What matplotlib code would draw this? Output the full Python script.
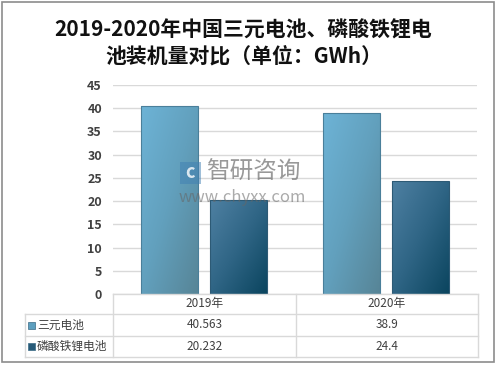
import numpy as np
import matplotlib.pyplot as plt
from matplotlib.colors import LinearSegmentedColormap
from matplotlib.patches import Rectangle

plt.rcParams['font.family'] = ['Noto Sans CJK SC', 'DejaVu Sans']

years = ['2019年', '2020年']
series_names = ['三元电池', '磷酸铁锂电池']
ternary = [40.563, 38.9]
lfp = [20.232, 24.4]
ternary_labels = ['40.563', '38.9']
lfp_labels = ['20.232', '24.4']

W, H = 497, 367
fig = plt.figure(figsize=(W / 100, H / 100), dpi=100)

def fx(px):
    return px / W

def fy(py):
    return 1 - py / H

# outer frame
fig.add_artist(Rectangle((fx(2), fy(362)), fx(492), 360 / H, transform=fig.transFigure,
                         fill=False, edgecolor='#8c8c8c', linewidth=1.2))

fig.text(0.49, fy(43), '2019-2020年中国三元电池、磷酸铁锂电\n池装机量对比（单位：GWh）',
         ha='center', va='center', fontsize=15, fontweight='bold', linespacing=1.3,
         color='#111111')

ax = fig.add_axes([fx(113), fy(294), fx(477) - fx(113), (294 - 85) / H])
ax.set_xlim(-0.5, 1.5)
ax.set_ylim(0, 45)
ax.set_yticks(range(0, 50, 5))
ax.yaxis.grid(True, color='#d9d9d9', linewidth=1)
ax.set_axisbelow(True)
for s in ax.spines.values():
    s.set_visible(False)
ax.tick_params(axis='y', length=0, pad=8, labelsize=9, labelcolor='#404040')
for lab in ax.get_yticklabels():
    lab.set_fontweight('bold')
ax.set_xticks([])

x = np.arange(len(years))
bw = 0.31
off = 0.19
cm1 = LinearSegmentedColormap.from_list('c1', ['#6db3d6', '#62a0bd', '#578597'])
cm2 = LinearSegmentedColormap.from_list('c2', ['#4e80a2', '#2f6585', '#0b455f'])
grad = np.add.outer(np.linspace(0, 1, 60), np.linspace(0, 1, 60)) / 2

for vals, cm, dx, ec in [(ternary, cm1, -off, '#4a7f9a'), (lfp, cm2, off, '#2d5a75')]:
    bars = ax.bar(x + dx, vals, width=bw, color='none', edgecolor=ec, linewidth=0.8, zorder=3)
    for b in bars:
        x0, y0, w, h = b.get_x(), b.get_y(), b.get_width(), b.get_height()
        im = ax.imshow(grad, cmap=cm, extent=(x0, x0 + w, y0, y0 + h), origin='upper',
                       aspect='auto', zorder=2)
        im.set_clip_path(b)
ax.set_xlim(-0.5, 1.5)
ax.set_ylim(0, 45)

# watermark
fig.text(fx(206), fy(172), '智研咨询', fontsize=17, color='#777777', alpha=0.75,
         ha='left', va='center')
fig.text(fx(179), fy(198), 'www.chyxx.com', fontsize=12, color='#666666', alpha=0.55,
         ha='left', va='center')
fig.add_artist(Rectangle((fx(180), fy(184)), fx(21), 22 / H, transform=fig.transFigure,
                         facecolor='#3f7fb3', alpha=0.5, edgecolor='none'))
fig.text(fx(190.5), fy(173), 'c', fontsize=13, color='white', alpha=0.8,
         ha='center', va='center', fontweight='bold')

# data table
gc = '#d9d9d9'
line_kw = dict(color=gc, linewidth=1, transform=fig.transFigure)
rows_y = [294, 314, 336, 357]
col_x = [25, 113, 296, 478]
fig.add_artist(plt.Line2D([fx(113), fx(478)], [fy(294), fy(294)], **line_kw))
for ry in rows_y[1:]:
    fig.add_artist(plt.Line2D([fx(25), fx(478)], [fy(ry), fy(ry)], **line_kw))
for cx in col_x[1:]:
    fig.add_artist(plt.Line2D([fx(cx), fx(cx)], [fy(294), fy(357)], **line_kw))
fig.add_artist(plt.Line2D([fx(25), fx(25)], [fy(314), fy(357)], **line_kw))

tc = '#404040'
centers = [(col_x[1] + col_x[2]) / 2, (col_x[2] + col_x[3]) / 2]
for cx, yr in zip(centers, years):
    fig.text(fx(cx), fy(304), yr, ha='center', va='center', fontsize=8.5, color=tc)
row_data = [(ternary_labels, '#5d9fbf'), (lfp_labels, '#275a78')]
for (labels, col), name, (ya, yb) in zip(row_data, series_names, [(314, 336), (336, 357)]):
    cy = (ya + yb) / 2
    fig.add_artist(Rectangle((fx(28), fy(cy + 3.5)), fx(7), 7 / H, transform=fig.transFigure,
                             facecolor=col, edgecolor='#3a6a85', linewidth=0.5))
    fig.text(fx(37), fy(cy), name, ha='left', va='center', fontsize=8.5, color=tc)
    for cx, lab in zip(centers, labels):
        fig.text(fx(cx), fy(cy), lab, ha='center', va='center', fontsize=8.5, color=tc)

fig.savefig('out.png', dpi=100)
